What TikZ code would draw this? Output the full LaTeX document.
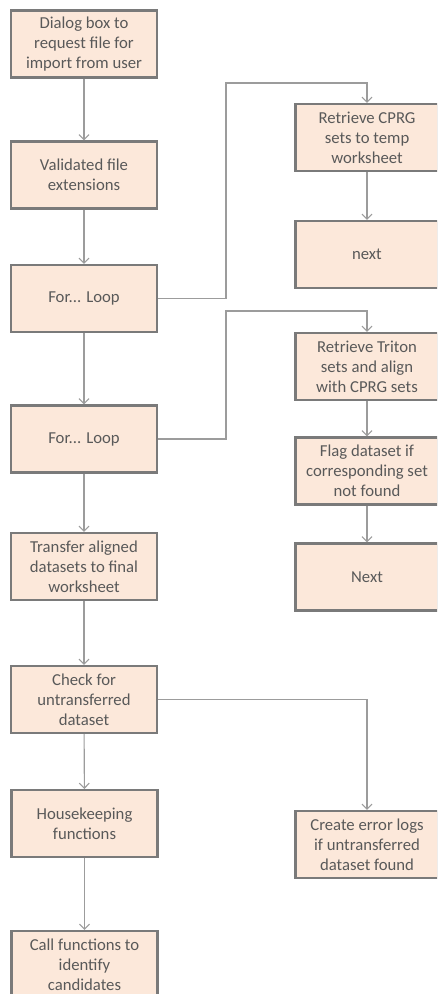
\documentclass[tikz,border=0pt]{standalone}
\usepackage{fontspec}
\setmainfont{Carlito}
\usetikzlibrary{arrows.meta}
\definecolor{boxfill}{HTML}{FCE8DA}
\definecolor{boxline}{HTML}{7A7A7A}
\definecolor{conn}{HTML}{9C9C9C}
\definecolor{txt}{HTML}{595959}
\tikzset{
  stepbox/.style={draw=boxline, line width=2.2pt, fill=boxfill, text=txt,
    minimum width=146pt, minimum height=67pt, inner sep=0pt, align=center,
    font=\fontsize{16.7}{20}\selectfont},
  rbox/.style={stepbox, minimum width=143pt},
  conline/.style={draw=conn, line width=1.1pt, -{Straight Barb[length=5pt,width=10pt]}}
}
\begin{document}
\begin{tikzpicture}[x=1pt,y=-1pt]
\useasboundingbox (0,0) rectangle (437,994);
\fill[white] (0,0) rectangle (437,994);
\clip (0,0) rectangle (437,994);
% left column
\node[stepbox] (b1) at (84,44) {Dialog box to\\request file for\\import from user};
\node[stepbox] (b2) at (84,175) {Validated file\\extensions};
\node[stepbox] (b3) at (84,298.5) {For... Loop};
\node[stepbox] (b4) at (84,439) {For... Loop};
\node[stepbox] (b5) at (84,566.5) {Transfer aligned\\datasets to final\\worksheet};
\node[stepbox] (b6) at (84,699.5) {Check for\\untransferred\\dataset};
\node[stepbox] (b7) at (84.5,823.5) {Housekeeping\\functions};
\node[stepbox] (b8) at (84.5,964.5) {Call functions to\\identify\\candidates};
% right column
\node[rbox] (r1) at (367,137.5) {Retrieve CPRG\\sets to temp\\worksheet};
\node[rbox] (r2) at (367,254.5) {next};
\node[rbox] (r3) at (367,366.5) {Retrieve Triton\\sets and align\\with CPRG sets};
\node[rbox] (r4) at (367,471) {Flag dataset if\\corresponding set\\not found};
\node[rbox] (r5) at (367,577) {Next};
\node[rbox] (r6) at (367,844.5) {Create error logs\\if untransferred\\dataset found};
% connectors
\draw[conline] (b1) -- (b2);
\draw[conline] (b2) -- (b3);
\draw[conline] (b3) -- (b4);
\draw[conline] (b4) -- (b5);
\draw[conline] (b5) -- (b6);
\draw[conline] (b6) -- (b7);
\draw[conline] (b7) -- (b8);
\draw[conline] (r1) -- (r2);
\draw[conline] (r3) -- (r4);
\draw[conline] (r4) -- (r5);
\draw[conline] (b3.east) -- (226,298.5) -- (226,83) -| (r1.north);
\draw[conline] (b4.east) -- (226,439) -- (226,311) -| (r3.north);
\draw[conline] (b6.east) -| (r6.north);
\end{tikzpicture}
\end{document}
